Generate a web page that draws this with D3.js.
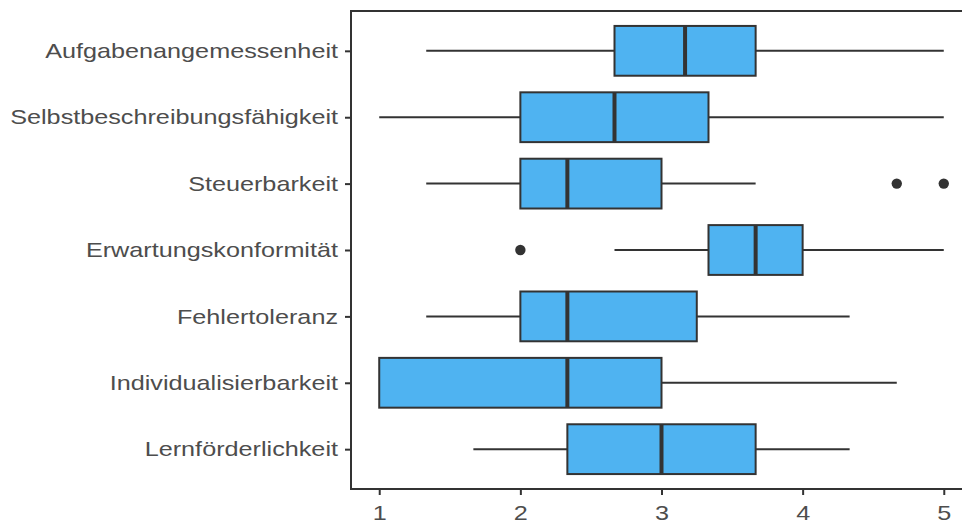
<!DOCTYPE html>
<html>
<head>
<meta charset="utf-8">
<script src="https://cdn.jsdelivr.net/npm/d3@7"></script>
<style>
  html, body { margin: 0; padding: 0; background: #fff; }
  svg { display: block; overflow: hidden; }
</style>
</head>
<body>
<svg id="chart" width="962" height="525"></svg>
<script>
// Usability dimensions (top to bottom) and their five-number summaries
const categories = [
  "Aufgabenangemessenheit",
  "Selbstbeschreibungsfähigkeit",
  "Steuerbarkeit",
  "Erwartungskonformität",
  "Fehlertoleranz",
  "Individualisierbarkeit",
  "Lernförderlichkeit"
];
const whiskerLow  = [1.333, 1.000, 1.333, 2.667, 1.333, 1.000, 1.667];
const q1          = [2.667, 2.000, 2.000, 3.333, 2.000, 1.000, 2.333];
const median      = [3.167, 2.667, 2.333, 3.667, 2.333, 2.333, 3.000];
const q3          = [3.667, 3.333, 3.000, 4.000, 3.250, 3.000, 3.667];
const whiskerHigh = [5.000, 5.000, 3.667, 5.000, 4.333, 4.667, 4.333];
// Outliers per category
const outliers = [
  [], [], [4.667, 5.000], [2.000], [], [], []
];
const xTicks = [1, 2, 3, 4, 5];

const rows = categories.map((c, i) => ({
  cat: c, lo: whiskerLow[i], q1: q1[i], med: median[i], q3: q3[i], hi: whiskerHigh[i], out: outliers[i]
}));

const svg = d3.select("#chart");
const panel = { left: 351, top: 11, right: 972, bottom: 489 };

const x = d3.scaleLinear().domain([0.8, 5.2]).range([panel.left, panel.right]);
// discrete expansion: 0.6 units each side of a 7-category axis
const step = (panel.bottom - panel.top) / 7.2;
const y = d3.scalePoint().domain(categories)
  .range([panel.top + 0.6 * step, panel.bottom - 0.6 * step]);
const boxH = step * 0.75;

const ink = "#333333";
const fill = "#4FB3F1";
const textCol = "#4D4D4D";
const font = "'Liberation Sans', Arial, sans-serif";
const stretch = 1.2;   // wide label glyphs

const g = svg.append("g");

// whiskers
g.selectAll("line.whisker-lo").data(rows).join("line")
  .attr("x1", d => x(d.lo)).attr("x2", d => x(d.q1))
  .attr("y1", d => y(d.cat)).attr("y2", d => y(d.cat))
  .attr("stroke", ink).attr("stroke-width", 2);
g.selectAll("line.whisker-hi").data(rows).join("line")
  .attr("x1", d => x(d.q3)).attr("x2", d => x(d.hi))
  .attr("y1", d => y(d.cat)).attr("y2", d => y(d.cat))
  .attr("stroke", ink).attr("stroke-width", 2);

// boxes
g.selectAll("rect.box").data(rows).join("rect")
  .attr("x", d => x(d.q1)).attr("width", d => x(d.q3) - x(d.q1))
  .attr("y", d => y(d.cat) - boxH / 2).attr("height", boxH)
  .attr("fill", fill).attr("stroke", ink).attr("stroke-width", 2);

// medians
g.selectAll("line.median").data(rows).join("line")
  .attr("x1", d => x(d.med)).attr("x2", d => x(d.med))
  .attr("y1", d => y(d.cat) - boxH / 2).attr("y2", d => y(d.cat) + boxH / 2)
  .attr("stroke", ink).attr("stroke-width", 4);

// outliers
const pts = rows.flatMap(d => d.out.map(v => ({ cat: d.cat, v })));
g.selectAll("circle.outlier").data(pts).join("circle")
  .attr("cx", d => x(d.v)).attr("cy", d => y(d.cat)).attr("r", 5.2)
  .attr("fill", ink);

// panel border
svg.append("rect")
  .attr("x", panel.left).attr("y", panel.top)
  .attr("width", panel.right - panel.left).attr("height", panel.bottom - panel.top)
  .attr("fill", "none").attr("stroke", ink).attr("stroke-width", 2);

function styleLabels(sel) {
  sel.attr("fill", textCol).style("font-family", font).style("font-size", "21px")
    .each(function () {
      const w = this.getComputedTextLength();
      d3.select(this).attr("textLength", w * stretch).attr("lengthAdjust", "spacingAndGlyphs");
    });
}

// y axis
const ya = svg.append("g").attr("transform", `translate(${panel.left},0)`)
  .call(d3.axisLeft(y).tickSize(6).tickPadding(7));
ya.select(".domain").remove();
ya.selectAll(".tick line").attr("stroke", ink).attr("stroke-width", 2);
styleLabels(ya.selectAll(".tick text"));

// x axis
const xa = svg.append("g").attr("transform", `translate(0,${panel.bottom})`)
  .call(d3.axisBottom(x).tickValues(xTicks).tickFormat(d3.format("d")).tickSize(6).tickPadding(10));
xa.select(".domain").remove();
xa.selectAll(".tick line").attr("stroke", ink).attr("stroke-width", 2);
styleLabels(xa.selectAll(".tick text"));
</script>
</body>
</html>
